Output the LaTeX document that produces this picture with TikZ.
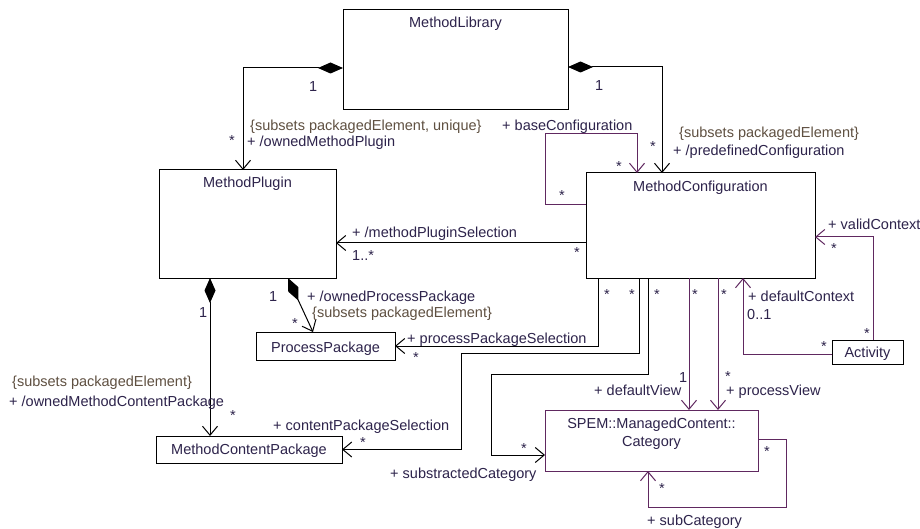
\documentclass[tikz,border=0pt]{standalone}
\usepackage{fontspec}
\setmainfont{Liberation Sans}
\usetikzlibrary{arrows.meta}
\definecolor{umlpurple}{RGB}{96,40,96}
\definecolor{roletext}{RGB}{45,35,75}
\definecolor{constrtext}{RGB}{95,80,65}
\begin{document}
\begin{tikzpicture}[x=1pt,y=-1pt,
  font=\fontsize{14.5}{17}\selectfont,
  box/.style={draw=black, line width=1pt, inner sep=0pt, outer sep=0pt, anchor=north west, fill=white},
  pbox/.style={box, draw=umlpurple},
  lbl/.style={anchor=base west, inner sep=0pt, text=roletext},
  cst/.style={lbl, text=constrtext},
  ttl/.style={anchor=base, inner sep=0pt, text=roletext},
  star/.style={anchor=base, inner sep=0pt, text=roletext},
  assoc/.style={draw=black, line width=1pt, -{Straight Barb[length=9pt,width=15pt]}},
  passoc/.style={assoc, draw=umlpurple},
  comp/.style={draw=black, line width=1pt, {Diamond[length=25pt,width=11pt,fill=black]}-{Straight Barb[length=9pt,width=15pt]}}]
\fill[white] (0,0) rectangle (920,529);
\useasboundingbox (0,0) rectangle (920,529);

% boxes
\node[box, minimum width=225pt, minimum height=100pt] (ML) at (343,10) {};
\node[box, minimum width=177pt, minimum height=108pt] (MP) at (159,170) {};
\node[box, minimum width=229pt, minimum height=105pt] (MC) at (586,173) {};
\node[box, minimum width=139pt, minimum height=28pt] (PP) at (256,332) {};
\node[box, minimum width=186pt, minimum height=27pt] (MCP) at (156,436) {};
\node[pbox, minimum width=213pt, minimum height=61pt] (Cat) at (545,410) {};
\node[box, minimum width=71pt, minimum height=24pt] (Act) at (832,340) {};

% titles
\node[ttl] (MLt) at (455.5,28) {MethodLibrary};
\node[ttl] (MPt) at (247.5,188) {MethodPlugin};
\node[ttl] (MCt) at (700.5,192) {MethodConfiguration};
\node[ttl] (PPt) at (325.5,352) {ProcessPackage};
\node[ttl] (MCPt) at (249,454) {MethodContentPackage};
\node[ttl] (Catt1) at (651.5,428) {SPEM::ManagedContent::};
\node[ttl] (Catt2) at (651.5,446) {Category};
\node[ttl] (Actt) at (867.5,357) {Activity};

% connectors
\draw[comp] (ML.west |- 0,68) -| (MP.north -| 243,0);
\draw[comp] (ML.east |- 0,67) -| (MC.north -| 662,0);
\draw[passoc] (MC.west |- 0,205) -| (545,134) -| (MC.north -| 637,0);
\draw[assoc] (MC.west |- 0,243) -- (MP.east |- 0,243);
\draw[comp] (MP.south -| 288,0) -- (PP.north -| 313,0);
\draw[assoc] (MC.south -| 598,0) |- (PP.east);
\draw[assoc] (MC.south -| 639,0) |- (461,353) |- (MCP.east);
\draw[assoc] (MC.south -| 648,0) |- (491,374) |- (Cat.west |- 0,455);
\draw[comp] (MP.south -| 210,0) -- (MCP.north -| 210,0);
\draw[passoc] (MC.south -| 689,0) -- (Cat.north -| 689,0);
\draw[passoc] (MC.south -| 718,0) -- (Cat.north -| 718,0);
\draw[passoc] (Act.west |- 0,354) -| (MC.south -| 743,0);
\draw[passoc] (Act.north -| 873,0) |- (MC.east |- 0,237);
\draw[passoc] (Cat.east |- 0,439) -| (786,507) -| (Cat.south -| 648,0);

% role names and constraints
\node[cst] (c1) at (250,131) {\{subsets packagedElement, unique\}};
\node[lbl] (r1) at (247,147) {+ /ownedMethodPlugin};
\node[lbl] (r2) at (502,131) {+ baseConfiguration};
\node[cst] (c2) at (679,138) {\{subsets packagedElement\}};
\node[lbl] (r3) at (673,156) {+ /predefinedConfiguration};
\node[lbl] (r4) at (828,230) {+ validContext};
\node[lbl] (r5) at (352,238) {+ /methodPluginSelection};
\node[lbl] (r6) at (307,301) {+ /ownedProcessPackage};
\node[cst] (c3) at (312,317) {\{subsets packagedElement\}};
\node[lbl] (r7) at (407,343) {+ processPackageSelection};
\node[cst] (c4) at (12,386) {\{subsets packagedElement\}};
\node[lbl] (r8) at (9,406) {+ /ownedMethodContentPackage};
\node[lbl] (r9) at (273,430) {+ contentPackageSelection};
\node[lbl] (r10) at (390,478) {+ substractedCategory};
\node[lbl] (r11) at (748,301) {+ defaultContext};
\node[lbl] (r12) at (594,395) {+ defaultView};
\node[lbl] (r13) at (726,395) {+ processView};
\node[lbl] (r14) at (647,525) {+ subCategory};

% multiplicities
\node[lbl] (m1) at (309,92) {1};
\node[lbl] (m2) at (595,91) {1};
\node[lbl] (m3) at (269,301) {1};
\node[lbl] (m4) at (199,317) {1};
\node[lbl] (m5) at (679,382) {1};
\node[lbl] (m6) at (352,261) {1..*};
\node[lbl] (m7) at (747,319) {0..1};
\node[star] (s1) at (232,146) {*};
\node[star] (s2) at (653,152) {*};
\node[star] (s3) at (619,172) {*};
\node[star] (s4) at (562,201) {*};
\node[star] (s5) at (834,253) {*};
\node[star] (s6) at (577,258) {*};
\node[star] (s7) at (295,328) {*};
\node[star] (s8) at (416,362) {*};
\node[star] (s9) at (233,420) {*};
\node[star] (s10) at (363,447) {*};
\node[star] (s11) at (607,299) {*};
\node[star] (s12) at (632,299) {*};
\node[star] (s13) at (657,299) {*};
\node[star] (s14) at (695,299) {*};
\node[star] (s15) at (724,299) {*};
\node[star] (s16) at (867,338) {*};
\node[star] (s17) at (824,351) {*};
\node[star] (s18) at (728,381) {*};
\node[star] (s19) at (524,453) {*};
\node[star] (s20) at (767,456) {*};
\node[star] (s21) at (662,493) {*};
\end{tikzpicture}
\end{document}
